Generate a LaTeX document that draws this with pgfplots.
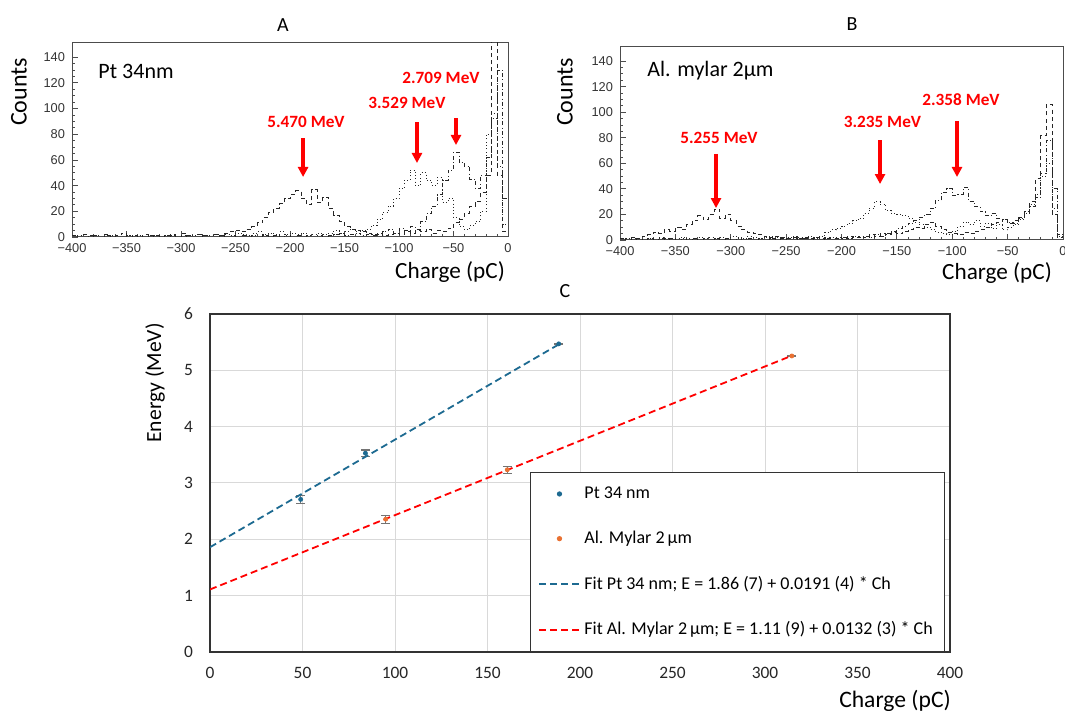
\documentclass[border=0pt]{standalone}
\usepackage{pgfplots}
\pgfplotsset{compat=1.18}
\usepackage{pgfplotstable}
\usepackage{fontspec}
\setmainfont{Carlito}
\newfontfamily\rootfont{Liberation Sans}
\usetikzlibrary{arrows.meta}

\definecolor{ptblue}{HTML}{1D6A91}
\definecolor{alorange}{HTML}{E97132}
\definecolor{gridgray}{HTML}{D9D9D9}
\definecolor{arrowred}{HTML}{FF0000}

% histogram bins of 5 pC, left edges; a = dashed, b = dotted, c = dash-dotted
\pgfplotstableread{
x a b c
-400 1 0 0
-395 0 1 0
-390 2 0 0
-385 0 0 1
-380 1 1 0
-375 0 0 0
-370 2 0 1
-365 0 1 0
-360 1 0 0
-355 3 0 0
-350 0 1 1
-345 1 0 0
-340 0 1 0
-335 2 0 0
-330 0 0 1
-325 1 1 0
-320 0 0 0
-315 1 0 1
-310 2 1 0
-305 0 0 0
-300 3 1 0
-295 1 0 1
-290 0 1 0
-285 2 2 0
-280 1 1 1
-275 0 1 0
-270 2 2 0
-265 1 1 1
-260 3 2 0
-255 4 1 1
-250 5 3 0
-245 4 2 1
-240 6 1 0
-235 8 3 1
-230 11 4 0
-225 15 2 1
-220 19 3 0
-215 22 2 1
-210 26 4 0
-205 30 2 1
-200 33 3 0
-195 36 2 1
-190 30 3 0
-185 25 1 1
-180 37 2 0
-175 27 3 1
-170 31 2 0
-165 22 3 1
-160 17 5 2
-155 12 3 3
-150 8 4 1
-145 6 6 2
-140 5 4 3
-135 4 5 1
-130 3 6 2
-125 2 9 1
-120 3 14 2
-115 1 19 4
-110 2 24 6
-105 3 30 3
-100 2 38 7
-95 4 44 5
-90 3 52 8
-85 5 40 6
-80 4 50 12
-75 6 44 18
-70 3 40 24
-65 5 46 33
-60 4 27 44
-55 7 30 52
-50 11 15 66
-45 14 8 58
-40 18 6 55
-35 24 9 45
-30 28 12 38
-25 35 20 48
-20 48 80 62
-15 155 96 92
-10 48 55 130
-5 4 10 30
0 4 10 30
}\histA

\pgfplotstableread{
x a b c
-400 1 0 0
-395 0 1 0
-390 2 0 1
-385 1 1 0
-380 3 0 0
-375 4 1 1
-370 6 0 0
-365 5 2 1
-360 8 1 0
-355 7 0 1
-350 10 1 0
-345 8 2 1
-340 12 1 0
-335 15 0 1
-330 19 2 0
-325 16 1 1
-320 20 2 0
-315 24 1 1
-310 17 2 0
-305 20 1 1
-300 15 3 0
-295 11 2 1
-290 8 1 0
-285 6 3 1
-280 5 2 0
-275 4 1 1
-270 3 2 0
-265 2 3 1
-260 3 2 0
-255 2 1 1
-250 1 2 0
-245 2 3 1
-240 1 2 0
-235 2 1 1
-230 1 3 0
-225 2 2 1
-220 1 3 0
-215 2 6 1
-210 1 8 2
-205 2 9 1
-200 1 11 2
-195 3 13 1
-190 2 15 3
-185 3 17 2
-180 2 21 3
-175 4 25 2
-170 3 30 4
-165 5 28 3
-160 4 23 5
-155 6 21 7
-150 5 20 9
-145 7 19 11
-140 8 17 13
-135 10 14 15
-130 9 12 18
-125 12 10 20
-120 14 8 25
-115 11 6 31
-110 8 5 37
-105 6 4 40
-100 5 7 35
-95 4 11 36
-90 6 14 41
-85 5 12 30
-80 7 15 26
-75 8 11 22
-70 10 13 19
-65 12 9 21
-60 14 12 17
-55 16 8 16
-50 13 10 14
-45 15 12 13
-40 18 16 17
-35 22 22 21
-30 30 28 26
-25 48 36 33
-20 82 50 52
-15 106 60 78
-10 20 25 40
-5 2 3 4
0 2 3 4
}\histB

\pgfplotsset{
  rootaxis/.style={
    scale only axis,
    xmin=-400, xmax=0, ymin=0, ymax=151,
    xtick={-400,-350,...,0},
    xticklabels={−400,−350,−300,−250,−200,−150,−100,−50,0},
    ytick={0,20,...,140},
    minor x tick num=4, minor y tick num=3,
    tick pos=left, tick align=inside,
    major tick length=3pt, minor tick length=1.6pt,
    axis line style={black!70, line width=0.5pt},
    tick style={black!70, line width=0.4pt},
    ticklabel style={font=\rootfont\fontsize{6.4}{7}\selectfont, text=black!80},
    /pgf/number format/assume math mode=true,
  },
  hist/.style={black!85, line width=0.4pt, const plot mark left, no marks},
  hdash/.style={dash pattern=on 2pt off 1.6pt},
  hdot/.style={dash pattern=on 0.45pt off 1.2pt},
  hdashdot/.style={dash pattern=on 2pt off 1.2pt on 0.45pt off 1.2pt},
  dotlegend/.style={legend image code/.code={\draw[mark repeat=2,mark phase=2,##1] plot coordinates {(0pt,0pt) (10pt,0pt) (20pt,0pt)};}},
  linelegend/.style={legend image code/.code={\draw[##1] (0pt,0pt) -- (20pt,0pt);}},
  fiterr/.style={error bars/.cd, y dir=both, y explicit,
    error bar style={black!55, line width=0.6pt, solid},
    error mark options={rotate=90, black!55, mark size=2.2pt, line width=0.6pt}},
}
\tikzset{
  peak/.style={draw=arrowred, line width=1.6pt, -{Triangle[width=5pt,length=5pt]}},
  peaklabel/.style={text=arrowred, font=\bfseries\fontsize{8.6}{10}\selectfont},
}

\begin{document}
\begin{tikzpicture}
\useasboundingbox (0,0) rectangle (532.5pt,355.5pt);

% ---- A ----
\begin{axis}[rootaxis, at={(36pt,237pt)}, anchor=south west, width=218pt, height=97pt]
\addplot[hist, hdash] table[x=x, y=a] {\histA};
\addplot[hist, hdot] table[x=x, y=b] {\histA};
\addplot[hist, hdashdot] table[x=x, y=c] {\histA};
\draw[peak] (axis cs:-188,77) -- (axis cs:-188,46.7);
\draw[peak] (axis cs:-83.5,89.5) -- (axis cs:-83.5,57.6);
\draw[peak] (axis cs:-47.7,92.6) -- (axis cs:-47.7,71.6);
\node[peaklabel] at (axis cs:-185.3,89.5) {5.470 MeV};
\node[peaklabel] at (axis cs:-92.7,104.3) {3.529 MeV};
\node[peaklabel] at (axis cs:-61.5,123.8) {2.709 MeV};
\end{axis}

% ---- B ----
\begin{axis}[rootaxis, at={(310pt,235.5pt)}, anchor=south west, width=221.5pt, height=96.5pt]
\addplot[hist, hdash] table[x=x, y=a] {\histB};
\addplot[hist, hdot] table[x=x, y=b] {\histB};
\addplot[hist, hdashdot] table[x=x, y=c] {\histB};
\draw[peak] (axis cs:-313.3,67.3) -- (axis cs:-313.3,25);
\draw[peak] (axis cs:-165.2,78.2) -- (axis cs:-165.2,43.8);
\draw[peak] (axis cs:-95.7,93.1) -- (axis cs:-95.7,49.3);
\node[peaklabel] at (axis cs:-310.6,79.8) {5.255 MeV};
\node[peaklabel] at (axis cs:-163,92.3) {3.235 MeV};
\node[peaklabel] at (axis cs:-92.1,109.5) {2.358 MeV};
\end{axis}

% ---- C ----
\begin{axis}[
  at={(105pt,29.5pt)}, anchor=south west, scale only axis,
  width=370pt, height=169pt,
  xmin=0, xmax=400, ymin=0, ymax=6,
  xtick={0,50,...,400}, ytick={0,1,...,6},
  grid=major, major grid style={gridgray, line width=0.5pt},
  axis line style={black!80, line width=0.6pt},
  major tick length=0pt,
  ticklabel style={font=\fontsize{8.7}{10}\selectfont, text=black!85},
  xticklabel style={yshift=-4pt}, yticklabel style={xshift=-5pt},
  /pgf/number format/assume math mode=true,
  legend style={at={(rel axis cs:0.4324,0.5325)}, anchor=north west,
    draw=black!80, line width=0.6pt, fill=white,
    inner xsep=4pt, inner ysep=5pt, row sep=10.8pt,
    font=\fontsize{9}{11}\selectfont},
  legend cell align=left,
]
\addplot[only marks, mark=*, mark size=1pt, ptblue, dotlegend, fiterr]
  table[x=x, y=y, y error=e] {
x y e
49 2.709 0.075
84 3.529 0.055
188.5 5.470 0.01
};
\addlegendentry{Pt 34 nm}
\addplot[only marks, mark=*, mark size=1pt, alorange, dotlegend, fiterr]
  table[x=x, y=y, y error=e] {
x y e
95 2.358 0.07
160.7 3.235 0.06
314.5 5.255 0.01
};
\addlegendentry{Al. Mylar 2\,µm}
\addplot[ptblue, line width=0.9pt, dash pattern=on 3.5pt off 2pt, linelegend]
  coordinates {(0,1.86) (188.5,5.46)};
\addlegendentry{Fit Pt 34 nm; E = 1.86 (7) + 0.0191 (4) * Ch}
\addplot[arrowred, line width=0.9pt, dash pattern=on 3.5pt off 2pt, linelegend]
  coordinates {(0,1.11) (314.5,5.26)};
\addlegendentry{Fit Al. Mylar 2\,µm; E = 1.11 (9) + 0.0132 (3) * Ch\rule[-5.5pt]{0pt}{5.5pt}}
\end{axis}

% titles and axis labels
\node[font=\fontsize{10}{12}\selectfont] at (141.5pt,343pt) {A};
\node[font=\fontsize{10}{12}\selectfont] at (426pt,343.5pt) {B};
\node[font=\fontsize{10}{12}\selectfont] at (282.5pt,210pt) {C};
\node[rotate=90, font=\fontsize{12}{14}\selectfont] at (9.5pt,309.5pt) {Counts};
\node[rotate=90, font=\fontsize{12}{14}\selectfont] at (282.5pt,309.5pt) {Counts};
\node[font=\fontsize{11.6}{14}\selectfont] at (225pt,219.5pt) {Charge (pC)};
\node[font=\fontsize{11.6}{14}\selectfont] at (498.5pt,219pt) {Charge (pC)};
\node[font=\fontsize{11.8}{14}\selectfont] at (447.5pt,5pt) {Charge (pC)};
\node[rotate=90, font=\fontsize{10.8}{13}\selectfont] at (77.5pt,164pt) {Energy (MeV)};
\node[anchor=west, inner sep=0pt, font=\fontsize{11}{13}\selectfont] at (49pt,320pt) {Pt 34nm};
\node[anchor=west, inner sep=0pt, font=\fontsize{11}{13}\selectfont] at (323.5pt,320pt) {Al. mylar 2µm};
\end{tikzpicture}
\end{document}
